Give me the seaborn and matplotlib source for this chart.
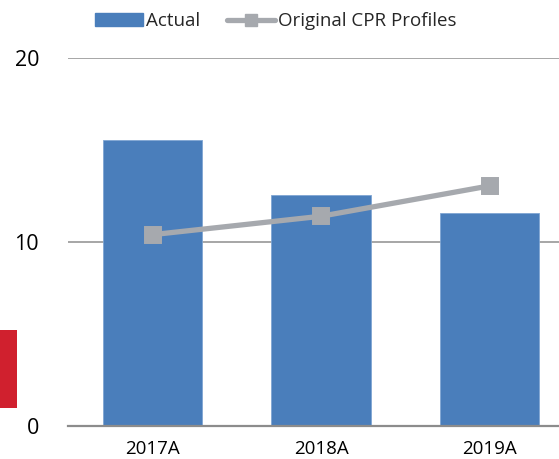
import matplotlib
matplotlib.use("Agg")
import matplotlib.pyplot as plt
import seaborn as sns
import pandas as pd
from matplotlib.patches import Patch, Rectangle
from matplotlib.lines import Line2D

categories = ["2017A", "2018A", "2019A"]
actual = [15.55, 12.55, 11.6]
cpr_profiles = [10.4, 11.4, 13.05]
y_ticks = [0, 10, 20]

bar_color = "#4A7EBB"
line_color = "#A6A9AE"
grid_color = "#A6A6A6"

sns.set_theme(style="white")
plt.rcParams["font.family"] = ["Open Sans", "DejaVu Sans"]

fig = plt.figure(figsize=(5.59, 4.59), dpi=100)
left = 68.3 / 559
bottom = (459 - 426) / 459
top = (459 - 58) / 459
ax = fig.add_axes([left, bottom, 1 - left, top - bottom])

df = pd.DataFrame({"cat": categories, "actual": actual, "cpr": cpr_profiles})

sns.barplot(data=df, x="cat", y="actual", color=bar_color, saturation=1,
            width=0.59, ax=ax, edgecolor="#7FA6D3", linewidth=0.6, zorder=2)
sns.pointplot(data=df, x="cat", y="cpr", color=line_color, markers="s",
              markersize=10.5, linewidth=3.8, ax=ax, zorder=4)

ax.set_xlim(-0.5, (559 - 68.3) / 168.5 - 0.5)
ax.set_ylim(0, 20)
ax.set_yticks(y_ticks)
ax.set_yticklabels([str(t) for t in y_ticks], fontsize=15.5, color="#000000")
ax.tick_params(axis="y", length=0, pad=21)
ax.tick_params(axis="x", length=0, pad=10, labelsize=13.5, labelcolor="#000000")
ax.set_xlabel("")
ax.set_ylabel("")

for s in ["left", "right", "top"]:
    ax.spines[s].set_visible(False)
ax.spines["bottom"].set_color("#8C8C8C")
ax.spines["bottom"].set_linewidth(1.6)
ax.spines["bottom"].set_zorder(5)
for yv in [10, 20]:
    ax.axhline(yv, color=grid_color, linewidth=1.4, zorder=1)

handles = [
    Patch(facecolor=bar_color, edgecolor=bar_color, label="Actual"),
    Line2D([0], [0], color=line_color, linewidth=3.8, marker="s",
           markersize=9, label="Original CPR Profiles"),
]
fig.legend(handles=handles, loc="upper center", bbox_to_anchor=(0.493, 1.01),
           ncol=2, frameon=False, fontsize=13.5, handlelength=2.6,
           handleheight=0.7, handletextpad=0.15, columnspacing=1.4)

fig.add_artist(Rectangle((0, (459 - 408) / 459), 17 / 559, 78 / 459,
                         transform=fig.transFigure, facecolor="#D0202E",
                         edgecolor="none"))

fig.savefig("out.png", dpi=100)
